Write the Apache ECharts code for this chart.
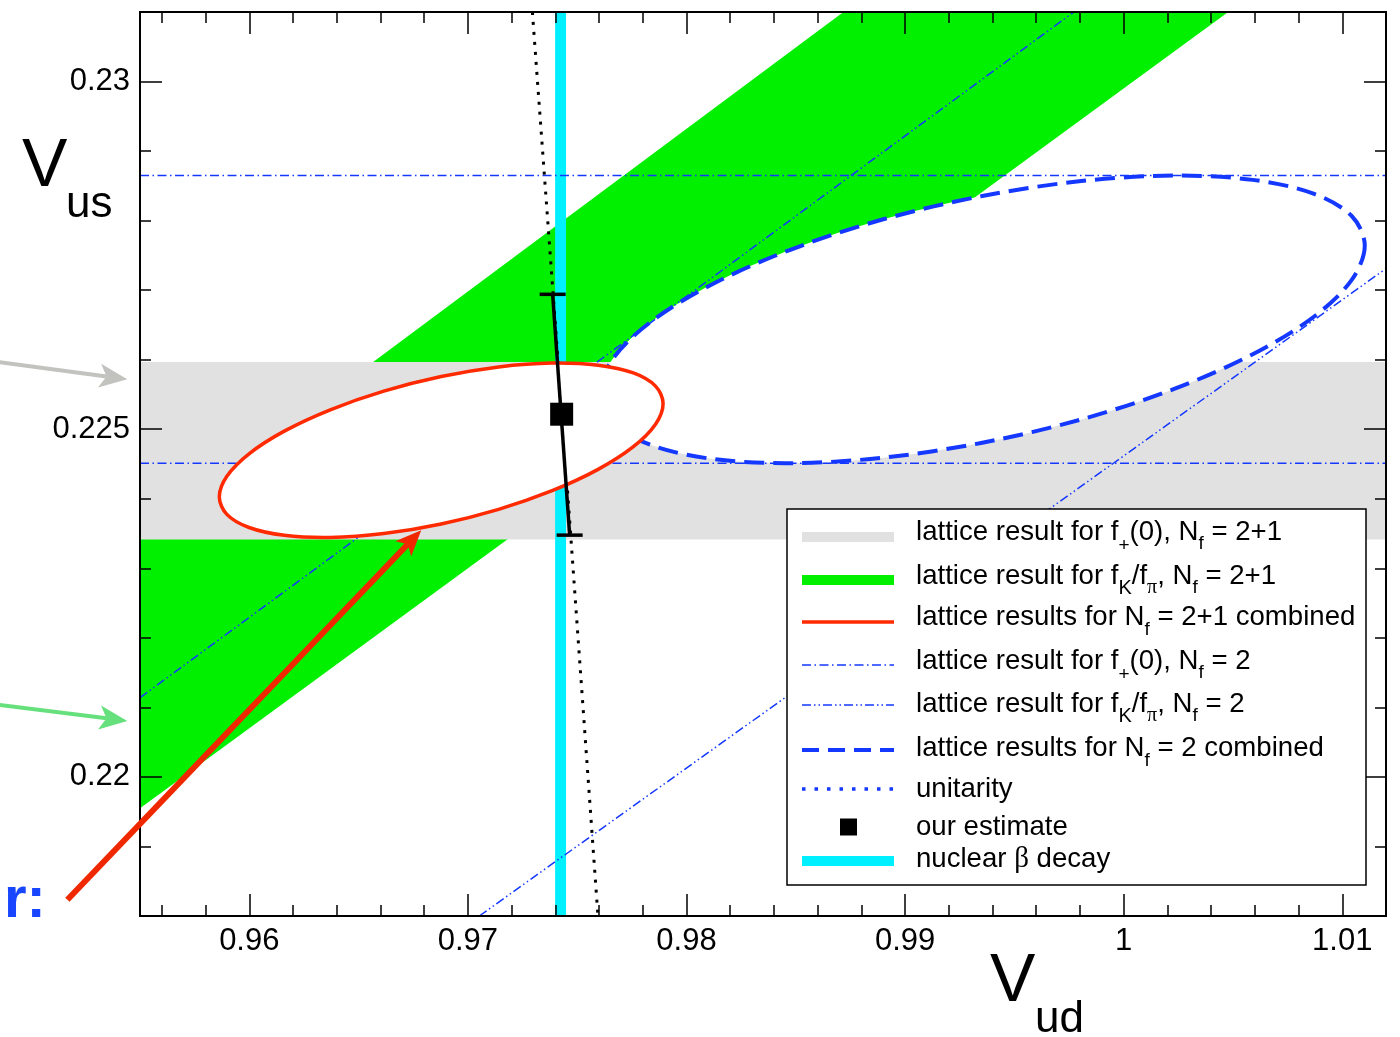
<!DOCTYPE html>
<html><head><meta charset="utf-8">
<script src="https://cdn.jsdelivr.net/npm/echarts@6/dist/echarts.min.js"></script>
<style>html,body{margin:0;padding:0;background:#fff}#c{width:1400px;height:1037px}</style>
</head><body><div id="c"></div>
<script>
// ---------- data ----------
const xRange = [0.955, 1.012];
const yRange = [0.218, 0.231];
const xMajorTicks = [0.96, 0.97, 0.98, 0.99, 1.00, 1.01];
const xMinorTicks = [0.956,0.958,0.962,0.964,0.966,0.968,0.972,0.974,0.976,0.978,0.982,0.984,0.986,0.988,0.992,0.994,0.996,0.998,1.002,1.004,1.006,1.008];
const yMajorTicks = [0.22, 0.225, 0.23];
const yMinorTicks = [0.219,0.221,0.222,0.223,0.224,0.226,0.227,0.228,0.229];

const fplusNf21Band = [0.223415, 0.225967];            // Vus range (grey)
const fKfpiNf21Band = [[0.955,0.21955],[0.955,0.22347],[0.98718,0.231],[1.00478,0.231]]; // green
const betaDecayBand = [0.97399, 0.97449];               // Vud range (cyan)
const fplusNf2Lines = [0.224511, 0.228649];             // Vus, dash-dot
const fKfpiNf2LineLow  = [[0.97052,0.218],[1.012,0.22731]];
const fKfpiNf2LineHigh = [[0.955,0.22114],[0.99772,0.231]];
const unitarityCurve = [[0.97295,0.231],[0.97447,0.2245],[0.97595,0.218]];
const nf21Ellipse = [
 [0.978930,0.225369],[0.978584,0.225072],[0.977570,0.224749],[0.975957,0.224423],[0.973855,0.224116],[0.971406,0.223848],
 [0.968779,0.223638],[0.966152,0.223500],[0.963703,0.223444],[0.961601,0.223475],[0.959988,0.223587],[0.958974,0.223776],
 [0.958628,0.224027],[0.958974,0.224324],[0.959988,0.224647],[0.961601,0.224973],[0.963703,0.225280],[0.966152,0.225548],
 [0.968779,0.225758],[0.971406,0.225896],[0.973855,0.225952],[0.975957,0.225921],[0.977570,0.225809],[0.978584,0.225620]];
const nf2Ellipse = [
 [1.011029,0.227643],[1.010432,0.227148],[1.008684,0.226614],[1.005904,0.226078],[1.002280,0.225576],[0.998059,0.225141],
 [0.993530,0.224806],[0.989001,0.224591],[0.984780,0.224512],[0.981156,0.224574],[0.978376,0.224772],[0.976628,0.225094],
 [0.976031,0.225517],[0.976628,0.226012],[0.978376,0.226546],[0.981156,0.227082],[0.984780,0.227584],[0.989001,0.228019],
 [0.993530,0.228354],[0.998059,0.228569],[1.002280,0.228648],[1.005904,0.228586],[1.008684,0.228388],[1.010432,0.228066]];
const estimate = [0.974289, 0.225216];
const estimateErr = [[0.973878,0.226940],[0.974655,0.223477]];
const annotationArrows = [
 {from:[0.94857,0.225963], to:[0.95442,0.225718], color:'#c2c2be', width:4, head:[28,24]},
 {from:[0.94857,0.221034], to:[0.95442,0.220805], color:'#66e07c', width:4, head:[28,24]},
 {from:[0.951678,0.218233], to:[0.967865,0.223549], color:'#f02800', width:6, head:[26,22]}
];
const legendLabels = [
 'lattice result for f{p|+}(0), N{s|f} = 2+1',
 'lattice result for f{k|K}/f{g|π}, N{s|f} = 2+1',
 'lattice results for N{s|f} = 2+1 combined',
 'lattice result for f{p|+}(0), N{s|f} = 2',
 'lattice result for f{k|K}/f{g|π}, N{s|f} = 2',
 'lattice results for N{s|f} = 2 combined',
 'unitarity',
 'our estimate',
 'nuclear {b|β} decay'
];

// ---------- styles ----------
const FONT = "'Liberation Sans', Arial, Helvetica, sans-serif";
const C = {green:'#00f000', gray:'#e1e1e1', cyan:'#00f0ff', blue:'#1438ff', red:'#ff2a00'};
const DASHDOT = [9,3.5,1.5,3.5], DASHDOTDOT = [9,3,1.5,3,1.5,3], DASHED = [20,9], DOTTED = [3,7];

function polySeries(pts, style, z, smooth) {
  return {type:'custom', coordinateSystem:'cartesian2d', z, silent:true,
    data:[[xRange[0], yRange[0]]],
    renderItem:(params, api) => ({type:'polygon',
      shape:{points: pts.map(p => api.coord(p)), smooth: smooth || 0},
      style: Object.assign({}, style)})};
}
function lineSeries(pts, color, width, dash, z) {
  return {type:'line', data:pts, symbol:'none', z, silent:true, clip:true,
    lineStyle:{color, width, type:dash, cap:'butt'}};
}
function axis(dim, pos, ticks, len, labels) {
  const r = dim === 'x' ? xRange : yRange;
  return {type:'value', min:r[0], max:r[1], position:pos, z:20,
    axisLine:{show:true, onZero:false, lineStyle:{color:'#000', width:2}},
    axisTick:{show:true, inside:true, length:len, customValues:ticks, lineStyle:{color:'#000', width:1.5}},
    axisLabel:{show:!!labels, customValues:ticks, margin:10, fontSize:31, fontFamily:FONT, color:'#000',
      formatter: v => String(+(+v).toFixed(4))},
    splitLine:{show:false}, axisPointer:{show:false}};
}

const gridBox = {left:140, right:14, top:12, bottom:121};

const option = {
  animation:false,
  backgroundColor:'#fff',
  grid: Object.assign({containLabel:false}, gridBox),
  xAxis:[axis('x','bottom',xMajorTicks,22,true), axis('x','bottom',xMinorTicks,11,false),
         axis('x','top',xMajorTicks,22,false), axis('x','top',xMinorTicks,11,false)],
  yAxis:[axis('y','left',yMajorTicks,22,true), axis('y','left',yMinorTicks,11,false),
         axis('y','right',yMajorTicks,22,false), axis('y','right',yMinorTicks,11,false)],
  series:[
    polySeries(fKfpiNf21Band, {fill:C.green}, 1),
    polySeries([[xRange[0],fplusNf21Band[0]],[xRange[1],fplusNf21Band[0]],[xRange[1],fplusNf21Band[1]],[xRange[0],fplusNf21Band[1]]], {fill:C.gray}, 2),
    polySeries(nf2Ellipse, {fill:'#fff'}, 3, 0.33),
    polySeries([[betaDecayBand[0],yRange[0]],[betaDecayBand[1],yRange[0]],[betaDecayBand[1],yRange[1]],[betaDecayBand[0],yRange[1]]], {fill:C.cyan}, 4),
    lineSeries([[xRange[0],fplusNf2Lines[0]],[xRange[1],fplusNf2Lines[0]]], C.blue, 1.5, DASHDOT, 5),
    lineSeries([[xRange[0],fplusNf2Lines[1]],[xRange[1],fplusNf2Lines[1]]], C.blue, 1.5, DASHDOT, 5),
    lineSeries(fKfpiNf2LineLow, C.blue, 1.5, DASHDOTDOT, 5),
    lineSeries(fKfpiNf2LineHigh, C.blue, 1.5, DASHDOTDOT, 5),
    lineSeries(unitarityCurve, '#000', 3, DOTTED, 5),
    polySeries(nf2Ellipse, {fill:null, stroke:C.blue, lineWidth:4, lineDash:DASHED}, 6, 0.33),
    polySeries(nf21Ellipse, {fill:'#fff', stroke:C.red, lineWidth:3.5}, 7, 0.33),
    {type:'custom', coordinateSystem:'cartesian2d', z:8, silent:true, data:[estimate],
      renderItem:(params, api) => {
        const a = api.coord(estimateErr[0]), b = api.coord(estimateErr[1]);
        const st = {stroke:'#000', lineWidth:3.5};
        return {type:'group', children:[
          {type:'line', shape:{x1:a[0],y1:a[1],x2:b[0],y2:b[1]}, style:st},
          {type:'line', shape:{x1:a[0]-13,y1:a[1],x2:a[0]+13,y2:a[1]}, style:st},
          {type:'line', shape:{x1:b[0]-13,y1:b[1],x2:b[0]+13,y2:b[1]}, style:st}]};
      }},
    {type:'scatter', data:[estimate], symbol:'rect', symbolSize:23, z:9, silent:true, itemStyle:{color:'#000', opacity:1}}
  ]
};

const chart = echarts.init(document.getElementById('c'), null, {renderer:'canvas'});
chart.setOption(option);

// ---------- graphics: axis titles, legend, annotation arrows ----------
const G = [];
function txt(x, y, text, font, fill, extra) {
  G.push(Object.assign({type:'text', z:100, style:Object.assign({x, y, text, font, fill:fill||'#000',
    align:'left', verticalAlign:'middle', textAlign:'left', textVerticalAlign:'middle'}, extra||{})}));
}
txt(22, 167.5, 'V', '68px ' + FONT);
txt(66, 204.6, 'us', '44px ' + FONT);
txt(990, 982.5, 'V', '68px ' + FONT);
txt(1035, 1019.7, 'ud', '44px ' + FONT);
txt(4, 901, 'r:', 'bold 58px ' + FONT, '#1846ff');

// legend box
G.push({type:'rect', z:90, shape:{x:787, y:509, width:579, height:376}, style:{fill:'#fff', stroke:'#000', lineWidth:1.5}});
const sampleY = [537, 580, 622, 665, 705, 750, 789, 827, 861];
const textY   = [532, 576, 617.5, 661, 704, 748.5, 789, 827, 859.5];
const samples = [
  {stroke:C.gray, lineWidth:10}, {stroke:C.green, lineWidth:10}, {stroke:C.red, lineWidth:3.5},
  {stroke:C.blue, lineWidth:1.5, lineDash:DASHDOT}, {stroke:C.blue, lineWidth:1.5, lineDash:DASHDOTDOT},
  {stroke:C.blue, lineWidth:4, lineDash:[17,9]}, {stroke:C.blue, lineWidth:3.5, lineDash:[3.5,9]},
  'square', {stroke:C.cyan, lineWidth:10}];
const rich = {
  s:{font:'19px ' + FONT, padding:[24,0,0,0]},
  p:{font:'19px ' + FONT, padding:[28,0,0,0]},
  k:{font:'20px ' + FONT, padding:[24,0,0,0]},
  g:{font:'20px "Liberation Serif", "DejaVu Serif", serif', padding:[24,0,0,0]},
  b:{font:'29px "Liberation Serif", "DejaVu Serif", serif'}
};
samples.forEach((s, i) => {
  const y = sampleY[i];
  if (s === 'square') {
    G.push({type:'rect', z:95, shape:{x:840, y:y-8.5, width:17, height:17}, style:{fill:'#000'}});
  } else {
    G.push({type:'line', z:95, shape:{x1:802, y1:y, x2:894, y2:y}, style:Object.assign({fill:null, lineCap:'butt'}, s)});
  }
  txt(916, textY[i], legendLabels[i], '27.6px ' + FONT, '#000', {rich});
});

// arrows
function px(p) { return chart.convertToPixel({gridIndex:0}, p); }
annotationArrows.forEach(a => {
  const p0 = px(a.from), p1 = px(a.to);
  const dx = p1[0]-p0[0], dy = p1[1]-p0[1], L = Math.hypot(dx, dy);
  const ux = dx/L, uy = dy/L, nx = -uy, ny = ux;
  const [hl, hw] = a.head;
  const bx = p1[0]-ux*hl, by = p1[1]-uy*hl;
  const kx = p1[0]-ux*hl*0.75, ky = p1[1]-uy*hl*0.75;
  G.push({type:'line', z:110, shape:{x1:p0[0], y1:p0[1], x2:kx, y2:ky}, style:{stroke:a.color, lineWidth:a.width}});
  G.push({type:'polygon', z:110, shape:{points:[[p1[0],p1[1]],[bx+nx*hw/2,by+ny*hw/2],[kx,ky],[bx-nx*hw/2,by-ny*hw/2]]}, style:{fill:a.color}});
});

chart.setOption({graphic:{elements:G}});
</script>
</body></html>
